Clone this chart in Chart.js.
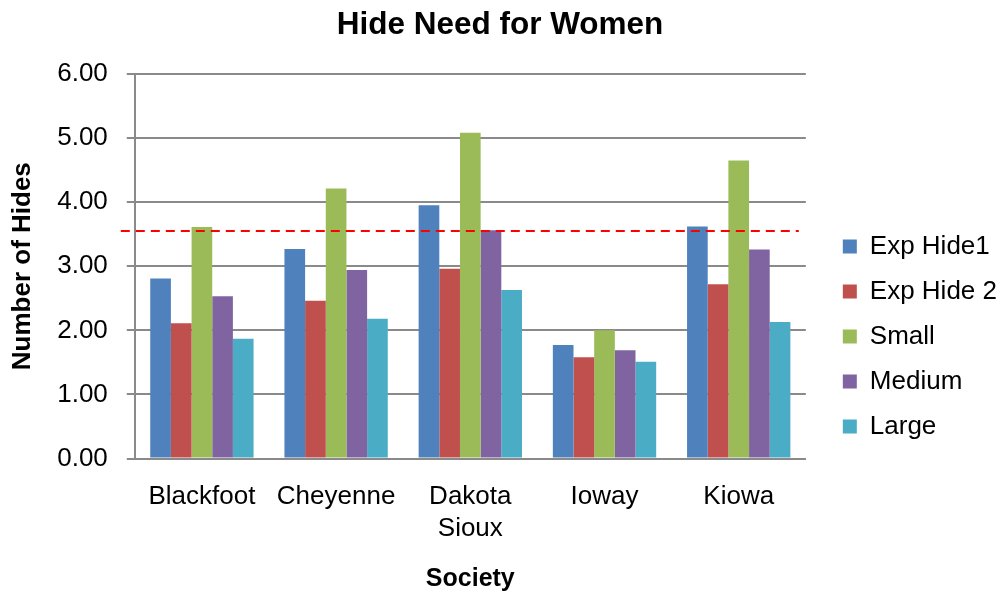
<!DOCTYPE html>
<html>
<head>
<meta charset="utf-8">
<script src="https://cdn.jsdelivr.net/npm/chart.js@4.4.1/dist/chart.umd.min.js"></script>
<style>
  body { margin: 0; background: #fff; }
</style>
</head>
<body>
<canvas id="myChart" width="1000" height="592"></canvas>
<script>
const societies = ['Blackfoot', 'Cheyenne', ['Dakota', 'Sioux'], 'Ioway', 'Kiowa'];
const expHide1 = [2.81, 3.27, 3.95, 1.77, 3.62];
const expHide2 = [2.11, 2.46, 2.96, 1.58, 2.72];
const small = [3.61, 4.21, 5.08, 2.00, 4.65];
const medium = [2.53, 2.94, 3.56, 1.69, 3.26];
const large = [1.87, 2.18, 2.63, 1.51, 2.13];
const hideLine = 3.55;

const FONT = "'Liberation Sans', Arial, sans-serif";
Chart.defaults.font.family = FONT;
Chart.defaults.color = '#000';

// red dashed reference line, y from the scale
const refLine = {
  id: 'refLine',
  afterDatasetsDraw(chart) {
    const {ctx, chartArea, scales: {y}} = chart;
    const py = y.getPixelForValue(hideLine);
    ctx.save();
    ctx.strokeStyle = '#ff0000';
    ctx.lineWidth = 2;
    ctx.setLineDash([9, 6]);
    ctx.beginPath();
    ctx.moveTo(chartArea.left - 14, py);
    ctx.lineTo(chartArea.right - 7, py);
    ctx.stroke();
    ctx.restore();
  }
};

// widen the legend box and push its items away from the plot
const legendGap = {
  id: 'legendGap',
  beforeInit(chart) {
    const fit = chart.legend.fit;
    chart.legend.fit = function () {
      fit.call(this);
      this.width += 11;
    };
  },
  afterLayout(chart) {
    chart.legend.left += 18;
    chart.legend.right += 18;
  }
};

const ctx = document.getElementById('myChart');

new Chart(ctx, {
  type: 'bar',
  data: {
    labels: societies,
    datasets: [
      { label: 'Exp Hide1', data: expHide1, backgroundColor: '#4F81BD' },
      { label: 'Exp Hide 2', data: expHide2, backgroundColor: '#C0504D' },
      { label: 'Small', data: small, backgroundColor: '#9BBB59' },
      { label: 'Medium', data: medium, backgroundColor: '#8064A2' },
      { label: 'Large', data: large, backgroundColor: '#4BACC6' }
    ]
  },
  options: {
    responsive: false,
    animation: false,
    categoryPercentage: 0.77,
    barPercentage: 1.0,
    layout: { padding: 0 },
    plugins: {
      title: {
        display: true,
        text: 'Hide Need for Women',
        font: { size: 31.5, weight: 'bold' },
        padding: { top: 6, bottom: 30 }
      },
      legend: {
        position: 'right',
        align: 'end',
        fullSize: false,
        labels: {
          boxWidth: 14,
          boxHeight: 14,
          padding: 19,
          font: { size: 26 }
        }
      },
      tooltip: { enabled: false }
    },
    scales: {
      x: {
        grid: { display: false, drawTicks: false },
        border: { color: '#8a8a8a', width: 2 },
        ticks: { font: { size: 26 }, padding: 23, autoSkip: false, maxRotation: 0 },
        title: {
          display: true,
          text: 'Society',
          font: { size: 25, weight: 'bold' },
          padding: { top: -3, bottom: -2 }
        }
      },
      y: {
        min: 0,
        max: 6,
        grid: { color: '#8a8a8a', lineWidth: 2, tickLength: 8 },
        border: { color: '#8a8a8a', width: 2 },
        ticks: {
          stepSize: 1,
          padding: 19,
          font: { size: 26 },
          callback: (v) => v.toFixed(2)
        },
        title: {
          display: true,
          text: 'Number of Hides',
          font: { size: 26, weight: 'bold' },
          padding: { top: 7, bottom: 0 }
        }
      }
    }
  },
  plugins: [refLine, legendGap]
});
</script>
</body>
</html>
